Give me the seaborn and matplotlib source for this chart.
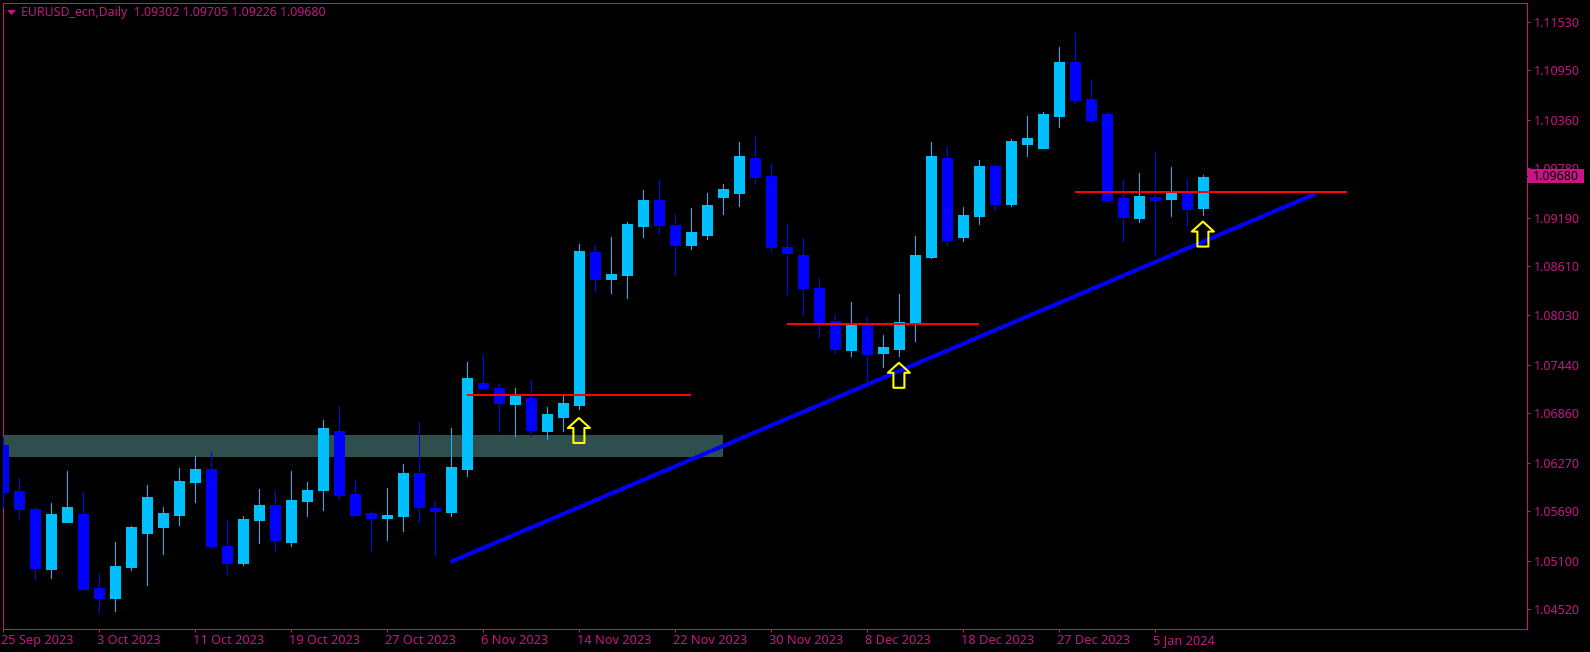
import matplotlib
matplotlib.use('Agg')
import matplotlib.pyplot as plt
from matplotlib.patches import Rectangle
from matplotlib.path import Path
from matplotlib.transforms import ScaledTranslation
import pandas as pd
import seaborn as sns

# ==========================
# data
# ==========================
opens = [1.06481, 1.05932, 1.05718, 1.05002, 1.05563, 1.05658, 1.04776, 1.04657, 1.05026, 1.05432,
         1.05503, 1.05646, 1.06040, 1.06195, 1.05277, 1.05074, 1.05587, 1.05765, 1.05324, 1.05813,
         1.05944, 1.06648, 1.05897, 1.05670, 1.05610, 1.05634, 1.06147, 1.05730, 1.05682, 1.06195,
         1.07220, 1.07160, 1.06970, 1.07041, 1.06648, 1.06815, 1.06958, 1.08782, 1.08460, 1.08507,
         1.09092, 1.09402, 1.09104, 1.08865, 1.08984, 1.09437, 1.09485, 1.09902, 1.09688, 1.08841,
         1.08746, 1.08352, 1.07959, 1.07613, 1.07911, 1.07578, 1.07625, 1.07923, 1.08722, 1.09902,
         1.08960, 1.09211, 1.09807, 1.09354, 1.10069, 1.10022, 1.10403, 1.11047, 1.10606, 1.10427,
         1.09425, 1.09187, 1.09437, 1.09413, 1.09485, 1.09302]
highs = [1.06576, 1.06087, 1.05742, 1.05789, 1.06171, 1.05920, 1.04943, 1.05324, 1.05515, 1.06004,
         1.05742, 1.06207, 1.06350, 1.06397, 1.05587, 1.05634, 1.05956, 1.05944, 1.06171, 1.06040,
         1.06779, 1.06946, 1.06075, 1.05694, 1.05968, 1.06254, 1.06755, 1.05813, 1.06683, 1.07470,
         1.07566, 1.07220, 1.07160, 1.07256, 1.06934, 1.07065, 1.08877, 1.08865, 1.08960, 1.09139,
         1.09521, 1.09652, 1.09235, 1.09306, 1.09485, 1.09592, 1.10093, 1.10177, 1.09843, 1.09127,
         1.08949, 1.08472, 1.08042, 1.08186, 1.08007, 1.07792, 1.08281, 1.08972, 1.10093, 1.10045,
         1.09318, 1.09878, 1.09831, 1.10129, 1.10403, 1.10451, 1.11226, 1.11393, 1.10844, 1.10451,
         1.09652, 1.09723, 1.09986, 1.09795, 1.09664, 1.09705]
lows = [1.05742, 1.05610, 1.04871, 1.04895, 1.05563, 1.04752, 1.04478, 1.04502, 1.04990, 1.04812,
        1.05181, 1.05527, 1.05801, 1.05253, 1.04943, 1.05050, 1.05312, 1.05217, 1.05277, 1.05634,
        1.05706, 1.05825, 1.05634, 1.05205, 1.05348, 1.05455, 1.05563, 1.05157, 1.05634, 1.06111,
        1.07148, 1.06636, 1.06588, 1.06588, 1.06552, 1.06648, 1.06910, 1.08305, 1.08293, 1.08233,
        1.08960, 1.08996, 1.08507, 1.08817, 1.08937, 1.09235, 1.09330, 1.09592, 1.08782, 1.08281,
        1.08031, 1.07768, 1.07578, 1.07542, 1.07220, 1.07411, 1.07542, 1.07721, 1.08710, 1.08865,
        1.08913, 1.09115, 1.09282, 1.09330, 1.09926, 1.10022, 1.10272, 1.10546, 1.10332, 1.09378,
        1.08913, 1.09139, 1.08758, 1.09211, 1.09092, 1.09226]
closes = [1.05920, 1.05718, 1.05014, 1.05658, 1.05742, 1.04764, 1.04657, 1.05038, 1.05503, 1.05861,
          1.05670, 1.06052, 1.06195, 1.05277, 1.05074, 1.05599, 1.05765, 1.05348, 1.05825, 1.05944,
          1.06683, 1.05885, 1.05646, 1.05610, 1.05646, 1.06147, 1.05742, 1.05694, 1.06218, 1.07279,
          1.07160, 1.06981, 1.07077, 1.06660, 1.06850, 1.06981, 1.08794, 1.08460, 1.08519, 1.09115,
          1.09402, 1.09104, 1.08865, 1.09020, 1.09342, 1.09533, 1.09926, 1.09676, 1.08841, 1.08770,
          1.08352, 1.07947, 1.07625, 1.07911, 1.07566, 1.07649, 1.07947, 1.08746, 1.09926, 1.08925,
          1.09223, 1.09807, 1.09354, 1.10105, 1.10141, 1.10427, 1.11047, 1.10594, 1.10355, 1.09402,
          1.09199, 1.09449, 1.09402, 1.09485, 1.09294, 1.09680]

x_tick_bars = [0, 6, 12, 18, 24, 30, 36, 42, 48, 54, 60, 66, 72]
x_tick_labels = ['25 Sep 2023', '3 Oct 2023', '11 Oct 2023', '19 Oct 2023', '27 Oct 2023',
                 '6 Nov 2023', '14 Nov 2023', '22 Nov 2023', '30 Nov 2023', '8 Dec 2023',
                 '18 Dec 2023', '27 Dec 2023', '5 Jan 2024']
y_ticks = [1.11530, 1.10950, 1.10360, 1.09780, 1.09190, 1.08610, 1.08030,
           1.07440, 1.06860, 1.06270, 1.05690, 1.05100, 1.04520]

zone_bars = [-1, 45]
zone_low = 1.06338
zone_high = 1.06600

trend_bars = [28, 82]
trend_prices = [1.05089, 1.09473]

level_bars = [[29, 43], [49, 61], [67, 84]]
level_prices = [1.07077, 1.07923, 1.09497]

arrow_bars = [36, 56, 75]
arrow_prices = [1.06654, 1.07312, 1.08996]

title = 'EURUSD_ecn,Daily  1.09302 1.09705 1.09226 1.09680'
last_price = '1.09680'

# ==========================
# style
# ==========================
BG = '#000000'
FG = '#C71585'
UP = '#00BFFF'
DOWN = '#0000FF'

sns.set_theme(style='dark', rc={
    'figure.facecolor': BG, 'axes.facecolor': BG, 'savefig.facecolor': BG,
    'axes.edgecolor': FG, 'axes.linewidth': 0.72,
    'xtick.color': FG, 'ytick.color': FG, 'text.color': FG,
    'xtick.bottom': True, 'ytick.right': True, 'ytick.left': False,
})
plt.rcParams['font.family'] = ['Noto Sans', 'DejaVu Sans']

W, H = 1590, 652
fig = plt.figure(figsize=(W / 100, H / 100), dpi=100)
ax = fig.add_axes([2.5 / W, (H - 628.5) / H, 1524 / W, 626 / H])

# ==========================
# candles
# ==========================
candles = pd.DataFrame({'bar': range(len(opens)), 'open': opens, 'high': highs,
                        'low': lows, 'close': closes})
candles['side'] = ['up' if c >= o else 'down' for o, c in zip(opens, closes)]
palette = {'up': UP, 'down': DOWN}

wicks = candles.melt(id_vars=['bar', 'side'], value_vars=['low', 'high'], value_name='price')
bodies = candles.melt(id_vars=['bar', 'side'], value_vars=['open', 'close'], value_name='price')

ax.fill_between(zone_bars, zone_low, zone_high, color='#2F4F4F', linewidth=0, zorder=1)

sns.lineplot(data=wicks, x='bar', y='price', hue='side', units='bar', estimator=None,
             palette=palette, legend=False, ax=ax, linewidth=0.72, antialiased=False,
             solid_capstyle='butt', zorder=3)
sns.lineplot(data=bodies, x='bar', y='price', hue='side', units='bar', estimator=None,
             palette=palette, legend=False, ax=ax, linewidth=7.92, antialiased=False,
             solid_capstyle='butt', zorder=4)

# ==========================
# trend line, levels, arrows
# ==========================
sns.lineplot(x=trend_bars, y=trend_prices, color=DOWN, ax=ax, linewidth=2.0,
             antialiased=False, solid_capstyle='butt', zorder=5)
for bars, price in zip(level_bars, level_prices):
    sns.lineplot(x=bars, y=[price, price], color='#FF0000', ax=ax, linewidth=1.44,
                 antialiased=False, solid_capstyle='butt', zorder=6)

arrow_marker = Path([(0, 1), (0.88, 0.2), (0.44, 0.2), (0.44, -1), (-0.44, -1),
                     (-0.44, 0.2), (-0.88, 0.2), (0, 1)], closed=True)
sns.scatterplot(x=arrow_bars, y=arrow_prices, marker=arrow_marker, s=324, facecolor='none',
                edgecolor='#FFFF00', linewidth=1.5, ax=ax, legend=False, zorder=7)

# ==========================
# axes
# ==========================
ax.set_xlim(-0.025, 95.225)
ax.set_ylim(1.04293, 1.11757)
ax.set_xlabel('')
ax.set_ylabel('')
ax.grid(False)

ax.set_xticks(x_tick_bars)
ax.set_xticklabels(x_tick_labels, ha='left', fontsize=9.2)
ax.tick_params(axis='x', length=2.2, width=0.72, pad=2)
# labels start a little left of their tick
shift = ScaledTranslation(-1.5 / 100, 0, fig.dpi_scale_trans)
for lab in ax.get_xticklabels():
    lab.set_transform(lab.get_transform() + shift)

ax.yaxis.tick_right()
ax.set_yticks(y_ticks)
ax.set_yticklabels([f'{v:.5f}' for v in y_ticks], fontsize=9)
ax.tick_params(axis='y', length=2.2, width=0.72, pad=3)

for side in ax.spines.values():
    side.set_visible(True)
    side.set_color(FG)
    side.set_linewidth(0.72)

# header and last price tag
header_marker = Path([(-1, 0.55), (1, 0.55), (0, -0.55), (-1, 0.55)], closed=True)
ax.plot([0.00558], [0.98403], marker=header_marker, color=FG, ms=6.5, mew=0, linestyle='none',
        transform=ax.transAxes, clip_on=False)
fig.text(21 / W, 1 - 12.5 / H, title, fontsize=8.85, color=FG, va='center', ha='left')

fig.add_artist(Rectangle((1528 / W, 1 - 183 / H), 56 / W, 14 / H, transform=fig.transFigure,
                         facecolor=FG, edgecolor='none', zorder=5))
fig.add_artist(Rectangle((1526 / W, 1 - 177 / H), 2 / W, 1 / H, transform=fig.transFigure,
                         facecolor=BG, edgecolor='none', zorder=5))
fig.text(1533 / W, 1 - 176.5 / H, last_price, fontsize=9, color='#000000', va='center',
         ha='left', zorder=6)

fig.savefig('out.png', dpi=100)
